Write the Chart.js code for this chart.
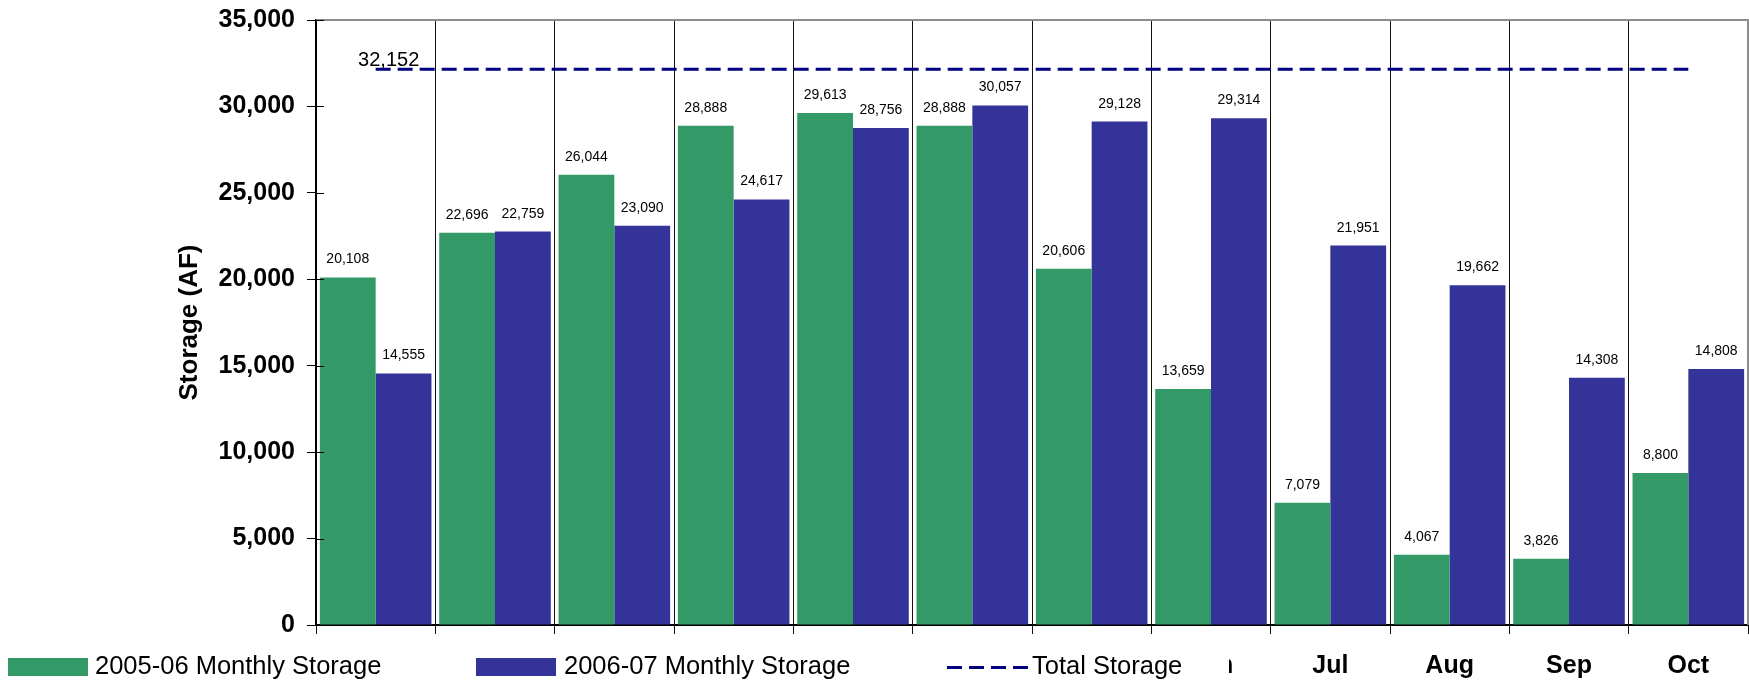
<!DOCTYPE html>
<html>
<head>
<meta charset="utf-8">
<title>Monthly Storage</title>
<script src="https://cdn.jsdelivr.net/npm/chart.js@4.4.1/dist/chart.umd.min.js"></script>
<style>
  html, body { margin: 0; padding: 0; background: #fff; }
  canvas { display: block; }
</style>
</head>
<body>
<canvas id="storageChart" width="1749" height="682"></canvas>
<script>
// water year months, Nov through Oct
const months = ['Nov', 'Dec', 'Jan', 'Feb', 'Mar', 'Apr', 'May', 'Jun', 'Jul', 'Aug', 'Sep', 'Oct']
const storage0506 = [20108, 22696, 26044, 28888, 29613, 28888, 20606, 13659, 7079, 4067, 3826, 8800]
const storage0607 = [14555, 22759, 23090, 24617, 28756, 30057, 29128, 29314, 21951, 19662, 14308, 14808]
const totalStorage = [32152, 32152, 32152, 32152, 32152, 32152, 32152, 32152, 32152, 32152, 32152, 32152]
const yTicks = [0, 5000, 10000, 15000, 20000, 25000, 30000, 35000]

const FONT = 'Arial, "Liberation Sans", sans-serif'
const GREEN = '#339966'
const BLUE = '#333399'
const NAVY = '#000080'

const fmt = (v) => v.toLocaleString('en-US')

// numbers above the bars, and the one label on the total storage line
const valueLabels = {
  id: 'valueLabels',
  afterDatasetsDraw (chart) {
    const { ctx } = chart
    ctx.save()
    ctx.fillStyle = '#000'
    ctx.textAlign = 'center'
    ctx.textBaseline = 'alphabetic'
    chart.data.datasets.forEach((ds, i) => {
      const meta = chart.getDatasetMeta(i)
      if (ds.type === 'line') {
        const p = meta.data[0]
        ctx.font = '20px ' + FONT
        ctx.fillText(fmt(ds.data[0]), p.x + 13, p.y - 3)
        return
      }
      ctx.font = '14px ' + FONT
      meta.data.forEach((bar, j) => {
        ctx.fillText(fmt(ds.data[j]), bar.x, bar.y - 14)
      })
    })
    ctx.restore()
  },
}

// grey top/right frame and the inner half of the y ticks
const frame = {
  id: 'frame',
  afterDraw (chart) {
    const { ctx, chartArea: a } = chart
    const y = chart.scales.y
    ctx.save()
    ctx.strokeStyle = '#8c8c8c'
    ctx.lineWidth = 2
    ctx.beginPath()
    ctx.moveTo(a.left, a.top)
    ctx.lineTo(a.right, a.top)
    ctx.lineTo(a.right, a.bottom)
    ctx.stroke()
    ctx.strokeStyle = '#000'
    ctx.lineWidth = 1
    y.ticks.forEach(t => {
      const py = Math.round(y.getPixelForValue(t.value)) + 0.5
      ctx.beginPath()
      ctx.moveTo(a.left, py)
      ctx.lineTo(a.left + 8, py)
      ctx.stroke()
    })
    ctx.restore()
  },
}

// legend sits on a white box over the first month labels
const legendBox = {
  id: 'legendBox',
  afterDraw (chart) {
    const { ctx } = chart
    const ds = chart.data.datasets
    ctx.save()
    ctx.fillStyle = '#fff'
    ctx.fillRect(0, 641, 1229, 41)
    ctx.font = '25.5px ' + FONT
    ctx.textBaseline = 'alphabetic'
    ctx.textAlign = 'left'
    const items = [
      { x: 8, textX: 95, ds: ds[0] },
      { x: 476, textX: 564, ds: ds[1] },
      { x: 947, textX: 1032, ds: ds[2] },
    ]
    items.forEach(it => {
      if (it.ds.type === 'line') {
        ctx.strokeStyle = it.ds.borderColor
        ctx.lineWidth = 3
        ctx.setLineDash([15, 7])
        ctx.beginPath()
        ctx.moveTo(it.x, 667.5)
        ctx.lineTo(it.x + 81, 667.5)
        ctx.stroke()
        ctx.setLineDash([])
      } else {
        ctx.fillStyle = it.ds.backgroundColor
        ctx.fillRect(it.x, 658, 80, 18)
      }
      ctx.fillStyle = '#000'
      ctx.fillText(it.ds.label, it.textX, 674)
    })
    ctx.restore()
  },
}

new Chart(document.getElementById('storageChart'), {
  data: {
    labels: months,
    datasets: [
      {
        type: 'bar',
        label: '2005-06 Monthly Storage',
        data: storage0506,
        backgroundColor: GREEN,
        categoryPercentage: 0.935,
        barPercentage: 1,
        order: 2,
      },
      {
        type: 'bar',
        label: '2006-07 Monthly Storage',
        data: storage0607,
        backgroundColor: BLUE,
        categoryPercentage: 0.935,
        barPercentage: 1,
        order: 2,
      },
      {
        type: 'line',
        label: 'Total Storage',
        data: totalStorage,
        borderColor: NAVY,
        borderWidth: 3,
        borderDash: [15, 7],
        pointRadius: 0,
        fill: false,
        order: 1,
      },
    ],
  },
  plugins: [valueLabels, frame, legendBox],
  options: {
    responsive: false,
    animation: false,
    layout: { padding: { top: 20, right: 1, left: 0, bottom: 0 } },
    plugins: {
      legend: { display: false },
      tooltip: { enabled: false },
    },
    scales: {
      x: {
        offset: true,
        grid: { offset: true, color: '#111', lineWidth: 1, tickLength: 9 },
        border: { color: '#000', width: 2 },
        ticks: {
          color: '#000',
          padding: 17,
          maxRotation: 0,
          font: { family: FONT, size: 25, weight: 'bold' },
        },
        afterFit (scale) { scale.height = 57 },
      },
      y: {
        min: 0,
        max: 35000,
        afterBuildTicks (scale) { scale.ticks = yTicks.map(v => ({ value: v })) },
        grid: { drawOnChartArea: false, color: '#000', tickLength: 9 },
        border: { color: '#000', width: 2 },
        ticks: {
          color: '#000',
          padding: 12,
          font: { family: FONT, size: 25, weight: 'bold', lineHeight: 0.6 },
          callback: (v) => fmt(v),
        },
        title: {
          display: true,
          text: 'Storage (AF)',
          color: '#000',
          padding: { top: 174, bottom: 0 },
          font: { family: FONT, size: 26, weight: 'bold' },
        },
        afterFit (scale) { scale.width = 316 },
      },
    },
  },
})
</script>
</body>
</html>
